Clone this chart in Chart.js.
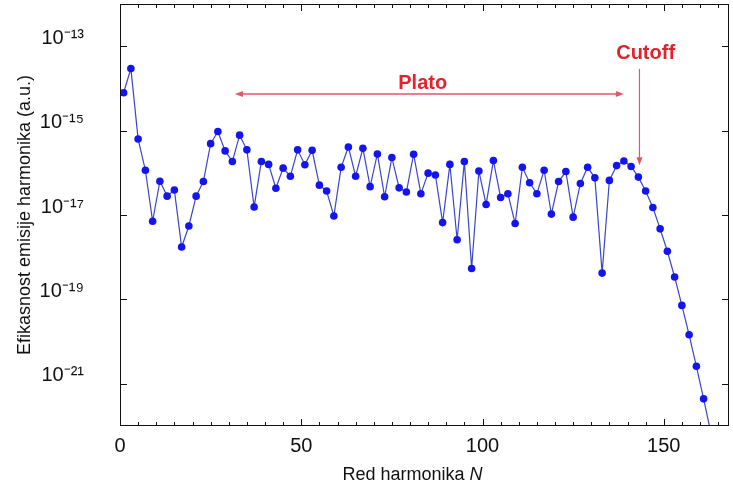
<!DOCTYPE html>
<html>
<head>
<meta charset="utf-8">
<script src="https://cdn.jsdelivr.net/npm/chart.js@4.4.1/dist/chart.umd.min.js"></script>
<style>
  html, body { margin: 0; padding: 0; background: #fff; }
</style>
</head>
<body>
<canvas id="harm" width="733" height="490"></canvas>
<script>
// harmonic order (odd harmonics only)
const harmonics = [1, 3, 5, 7, 9, 11, 13, 15, 17, 19, 21, 23, 25, 27, 29, 31, 33, 35, 37, 39,
  41, 43, 45, 47, 49, 51, 53, 55, 57, 59, 61, 63, 65, 67, 69, 71, 73, 75, 77, 79,
  81, 83, 85, 87, 89, 91, 93, 95, 97, 99, 101, 103, 105, 107, 109, 111, 113, 115, 117, 119,
  121, 123, 125, 127, 129, 131, 133, 135, 137, 139, 141, 143, 145, 147, 149, 151, 153, 155, 157, 159,
  161, 163];
// emission efficiency (a.u.)
const efficiency = [7.9e-15, 2.95e-14, 6.3e-16, 1.15e-16, 7.1e-18, 6.3e-17, 2.8e-17, 3.9e-17, 1.74e-18, 5.5e-18,
  2.8e-17, 6.2e-17, 4.9e-16, 9.5e-16, 3.3e-16, 1.86e-16, 7.8e-16, 3.5e-16, 1.55e-17, 1.86e-16,
  1.58e-16, 4.3e-17, 1.29e-16, 8.3e-17, 3.5e-16, 1.55e-16, 3.4e-16, 5.1e-17, 3.7e-17, 9.5e-18,
  1.35e-16, 4.1e-16, 8.3e-17, 3.8e-16, 4.7e-17, 2.8e-16, 2.7e-17, 2.3e-16, 4.4e-17, 3.5e-17,
  2.75e-16, 3.2e-17, 9.8e-17, 8.9e-17, 6.6e-18, 1.58e-16, 2.6e-18, 1.86e-16, 5.4e-19, 1.10e-16,
  1.78e-17, 1.95e-16, 2.6e-17, 3.2e-17, 6.3e-18, 1.35e-16, 5.8e-17, 3.2e-17, 1.15e-16, 1.05e-17,
  6.2e-17, 1.07e-16, 8.9e-18, 5.6e-17, 1.35e-16, 7.6e-17, 4.2e-19, 6.6e-17, 1.48e-16, 1.9e-16,
  1.41e-16, 7.9e-17, 3.7e-17, 1.51e-17, 4.7e-18, 1.38e-18, 3.4e-19, 7.2e-20, 1.45e-20, 2.6e-21,
  4.4e-22, 6.9e-23];

const xTickLabels = [0, 50, 100, 150];
const yTickValues = [1e-21, 1e-19, 1e-17, 1e-15, 1e-13];

// annotations, in data coordinates
const platoFrom = 31.7, platoTo = 139, platoLevel = 7.4e-15;
const platoText = { n: 83.5, v: 1.29e-14, label: 'Plato' };
const cutoffN = 143.3, cutoffTop = 2.9e-14, cutoffBottom = 1.5e-16;
const cutoffText = { n: 145, v: 6.9e-14, label: 'Cutoff' };

const sup = { '-': '\u207B', '0': '\u2070', '1': '\u00B9', '2': '\u00B2', '3': '\u00B3',
  '4': '\u2074', '5': '\u2075', '6': '\u2076', '7': '\u2077', '8': '\u2078', '9': '\u2079' };

const points = harmonics.map((n, i) => ({ x: n, y: efficiency[i] }));

function arrowHead(ctx, x, y, dx, dy) {
  // small filled head pointing along (dx, dy)
  const len = 8, half = 3;
  ctx.beginPath();
  ctx.moveTo(x, y);
  ctx.lineTo(x - dx * len - dy * half, y - dy * len + dx * half);
  ctx.lineTo(x - dx * len + dy * half, y - dy * len - dx * half);
  ctx.closePath();
  ctx.fill();
}

const frameAndNotes = {
  id: 'frameAndNotes',
  afterDraw(chart) {
    const { ctx, chartArea: a, scales: { x, y } } = chart;
    ctx.save();

    // frame
    ctx.strokeStyle = '#111';
    ctx.lineWidth = 1;
    ctx.strokeRect(a.left + 0.5, a.top + 0.5, a.right - a.left - 1, a.bottom - a.top - 1);

    // inward ticks, mirrored on all four sides
    ctx.beginPath();
    for (let n = 0; n <= x.max; n += 5) {
      const px = Math.round(x.getPixelForValue(n)) + 0.5;
      const len = n % 50 === 0 ? 7 : 4;
      ctx.moveTo(px, a.bottom); ctx.lineTo(px, a.bottom - len);
      ctx.moveTo(px, a.top); ctx.lineTo(px, a.top + len);
    }
    yTickValues.forEach(v => {
      const py = Math.round(y.getPixelForValue(v)) + 0.5;
      ctx.moveTo(a.left, py); ctx.lineTo(a.left + 7, py);
      ctx.moveTo(a.right, py); ctx.lineTo(a.right - 7, py);
    });
    ctx.stroke();

    // Plato double arrow
    ctx.strokeStyle = '#e0566a';
    ctx.fillStyle = '#e0566a';
    ctx.lineWidth = 1.5;
    const x1 = x.getPixelForValue(platoFrom), x2 = x.getPixelForValue(platoTo);
    const py = y.getPixelForValue(platoLevel);
    ctx.beginPath(); ctx.moveTo(x1 + 4, py); ctx.lineTo(x2 - 4, py); ctx.stroke();
    arrowHead(ctx, x1, py, -1, 0);
    arrowHead(ctx, x2, py, 1, 0);

    // Cutoff arrow
    const cx = x.getPixelForValue(cutoffN);
    const cy1 = y.getPixelForValue(cutoffTop), cy2 = y.getPixelForValue(cutoffBottom);
    ctx.lineWidth = 1.2;
    ctx.beginPath(); ctx.moveTo(cx, cy1); ctx.lineTo(cx, cy2 - 4); ctx.stroke();
    arrowHead(ctx, cx, cy2, 0, 1);

    // labels
    ctx.fillStyle = '#e3222c';
    ctx.font = 'bold 20px "Liberation Sans", Arial, sans-serif';
    ctx.textAlign = 'center';
    ctx.textBaseline = 'middle';
    ctx.fillText(platoText.label, x.getPixelForValue(platoText.n), y.getPixelForValue(platoText.v));
    ctx.fillText(cutoffText.label, x.getPixelForValue(cutoffText.n), y.getPixelForValue(cutoffText.v));

    // x axis title with italic N
    ctx.fillStyle = '#111';
    ctx.textAlign = 'left';
    const part1 = 'Red harmonika ';
    ctx.font = '18px "Liberation Sans", Arial, sans-serif';
    const w1 = ctx.measureText(part1).width;
    ctx.font = 'italic 18px "Liberation Sans", Arial, sans-serif';
    const w2 = ctx.measureText('N').width;
    const tx = (a.left + a.right) / 2 - 12 - (w1 + w2) / 2;
    const ty = 475;
    ctx.font = '18px "Liberation Sans", Arial, sans-serif';
    ctx.fillText(part1, tx, ty);
    ctx.font = 'italic 18px "Liberation Sans", Arial, sans-serif';
    ctx.fillText('N', tx + w1, ty);

    ctx.restore();
  }
};

new Chart(document.getElementById('harm'), {
  type: 'line',
  data: {
    datasets: [{
      data: points,
      borderColor: '#3a45c8',
      borderWidth: 1.2,
      backgroundColor: '#1414f0',
      pointBackgroundColor: '#1414f0',
      pointBorderColor: '#1414f0',
      pointRadius: 3.8,
      pointBorderWidth: 0,
      tension: 0
    }]
  },
  options: {
    responsive: false,
    animation: false,
    devicePixelRatio: 1,
    layout: { padding: { top: 3, right: 0, left: 0, bottom: 0 } },
    plugins: { legend: { display: false }, tooltip: { enabled: false } },
    scales: {
      x: {
        type: 'linear',
        min: 0,
        max: 168,
        afterBuildTicks: s => { s.ticks = xTickLabels.map(v => ({ value: v })); },
        afterFit: s => { s.height = 64; s.paddingLeft = 0; s.paddingRight = 0; },
        grid: { display: false, drawTicks: false },
        border: { display: false },
        ticks: {
          color: '#111',
          padding: 8,
          maxRotation: 0,
          font: { family: '"Liberation Sans", Arial, sans-serif', size: 20 }
        }
      },
      y: {
        type: 'logarithmic',
        min: 1e-22,
        max: 1e-12,
        afterBuildTicks: s => { s.ticks = yTickValues.map(v => ({ value: v })); },
        afterFit: s => { s.width = 120; s.paddingTop = 0; s.paddingBottom = 0; },
        grid: { display: false, drawTicks: false },
        border: { display: false },
        ticks: {
          color: '#111',
          padding: 36,
          labelOffset: -8,
          font: { family: '"Liberation Sans", Arial, sans-serif', size: 20 },
          callback: v => '10' + String(Math.round(Math.log10(v))).split('').map(c => sup[c]).join('')
        },
        title: {
          display: true,
          text: 'Efikasnost emisije harmonika (a.u.)',
          color: '#111',
          font: { family: '"Liberation Sans", Arial, sans-serif', size: 18 },
          padding: { top: 14, bottom: 0 }
        }
      }
    }
  },
  plugins: [frameAndNotes]
});
</script>
</body>
</html>
